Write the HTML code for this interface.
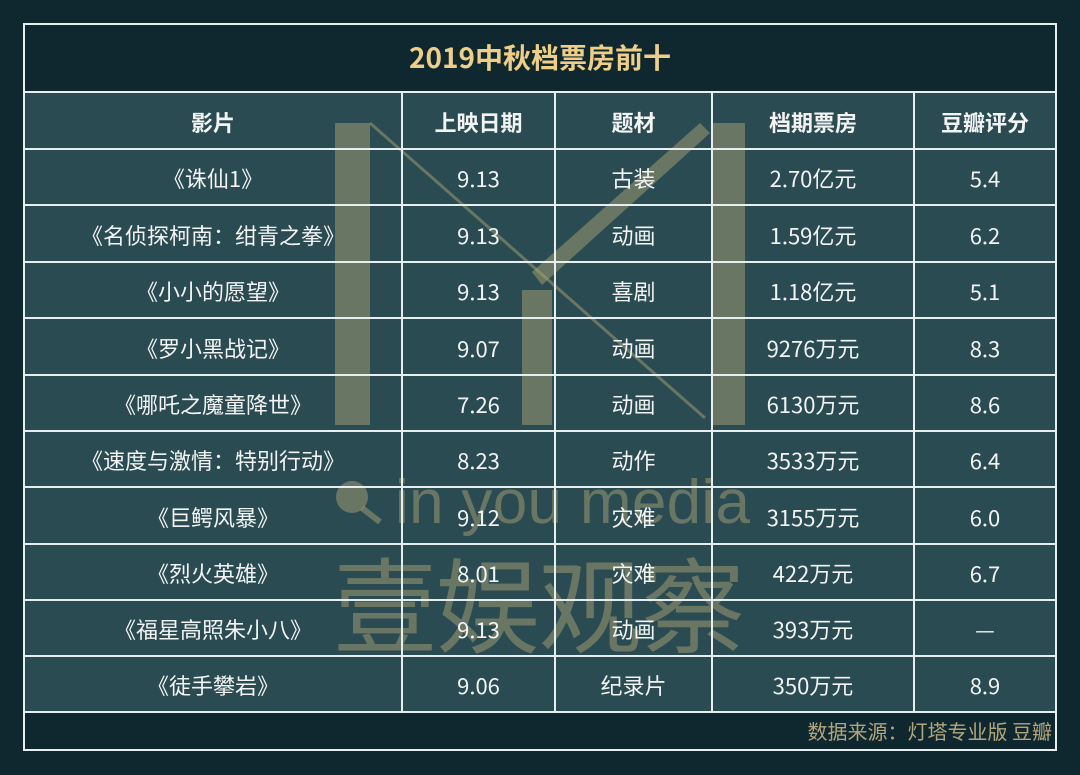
<!DOCTYPE html>
<html><head><meta charset="utf-8"><style>
body{margin:0;width:1080px;height:775px;background:#0f2830;overflow:hidden;font-family:"Noto Sans CJK SC","Liberation Sans",sans-serif;position:relative}
.abs{position:absolute}
.c{position:absolute;text-align:center;color:#f2f4f4;font-size:22px;white-space:nowrap}
.hl{position:absolute;left:23px;width:1034px;height:2px;background:#e6eef0}
.vl{position:absolute;top:92px;height:620px;width:2px;background:#e6eef0}
.b{font-weight:bold}
</style></head><body>
<div class="abs" style="left:24px;top:92px;width:1032px;height:620px;background:#2b4b52"></div>
<svg class="abs" style="left:0;top:0" width="1080" height="775">
<g fill="#b4aa78" opacity="0.45" stroke="none">
<rect x="335" y="123" width="35" height="302"/>
<rect x="522" y="290" width="30" height="135"/>
<rect x="712" y="123" width="33" height="302"/>
<polygon points="532,272 700,123 710,133 542,285"/>
<circle cx="352" cy="497" r="16"/>
</g>
<g stroke="#b4aa78" opacity="0.45" fill="none">
<line x1="370" y1="123" x2="705" y2="418" stroke-width="3"/>
<line x1="362" y1="508" x2="380" y2="522" stroke-width="6"/>
</g>
<text x="395" y="523" fill="#b4aa78" opacity="0.45" font-size="62" font-family="Liberation Sans,sans-serif" textLength="355" lengthAdjust="spacing">in you media</text>
<text x="333" y="645" fill="#b4aa78" opacity="0.45" font-size="104" font-family="Noto Sans CJK SC,sans-serif" textLength="412">壹娱观察</text>
</svg>
<div class="abs" style="left:23px;top:23px;width:1030px;height:724px;border:2px solid #e6eef0"></div>
<div class="hl" style="top:91px"></div>
<div class="hl" style="top:148px"></div>
<div class="hl" style="top:204px"></div>
<div class="hl" style="top:261px"></div>
<div class="hl" style="top:317px"></div>
<div class="hl" style="top:374px"></div>
<div class="hl" style="top:430px"></div>
<div class="hl" style="top:486px"></div>
<div class="hl" style="top:543px"></div>
<div class="hl" style="top:599px"></div>
<div class="hl" style="top:655px"></div>
<div class="hl" style="top:711px"></div>
<div class="vl" style="left:401px"></div>
<div class="vl" style="left:554px"></div>
<div class="vl" style="left:711px"></div>
<div class="vl" style="left:913px"></div>
<div class="c b" style="left:24px;width:1032px;top:37px;font-size:28px;color:#eecf85;line-height:40px">2019中秋档票房前十</div>
<div id="rows"></div>
<div class="c" style="left:24px;width:1028px;top:716px;text-align:right;color:#b2a67a;font-size:20px;line-height:30px">数据来源：灯塔专业版 豆瓣</div>
<script>
var cols=[24,402,555,712,914,1056];
var tops=[92,149,205,262,318,375,431,487,544,600,656,712];
var data=[["影片","上映日期","题材","档期票房","豆瓣评分"],
["《诛仙1》","9.13","古装","2.70亿元","5.4"],
["《名侦探柯南：绀青之拳》","9.13","动画","1.59亿元","6.2"],
["《小小的愿望》","9.13","喜剧","1.18亿元","5.1"],
["《罗小黑战记》","9.07","动画","9276万元","8.3"],
["《哪吒之魔童降世》","7.26","动画","6130万元","8.6"],
["《速度与激情：特别行动》","8.23","动作","3533万元","6.4"],
["《巨鳄风暴》","9.12","灾难","3155万元","6.0"],
["《烈火英雄》","8.01","灾难","422万元","6.7"],
["《福星高照朱小八》","9.13","动画","393万元","—"],
["《徒手攀岩》","9.06","纪录片","350万元","8.9"]];
var h="";
for(var r=0;r<data.length;r++){for(var c=0;c<5;c++){
var y=(tops[r]+tops[r+1])/2;
h+='<div class="c'+(r==0?' b':'')+'" style="left:'+cols[c]+'px;width:'+(cols[c+1]-cols[c])+'px;top:'+(y-16)+'px;line-height:34px">'+data[r][c]+'</div>';}}
document.getElementById("rows").innerHTML=h;
</script>
</body></html>
